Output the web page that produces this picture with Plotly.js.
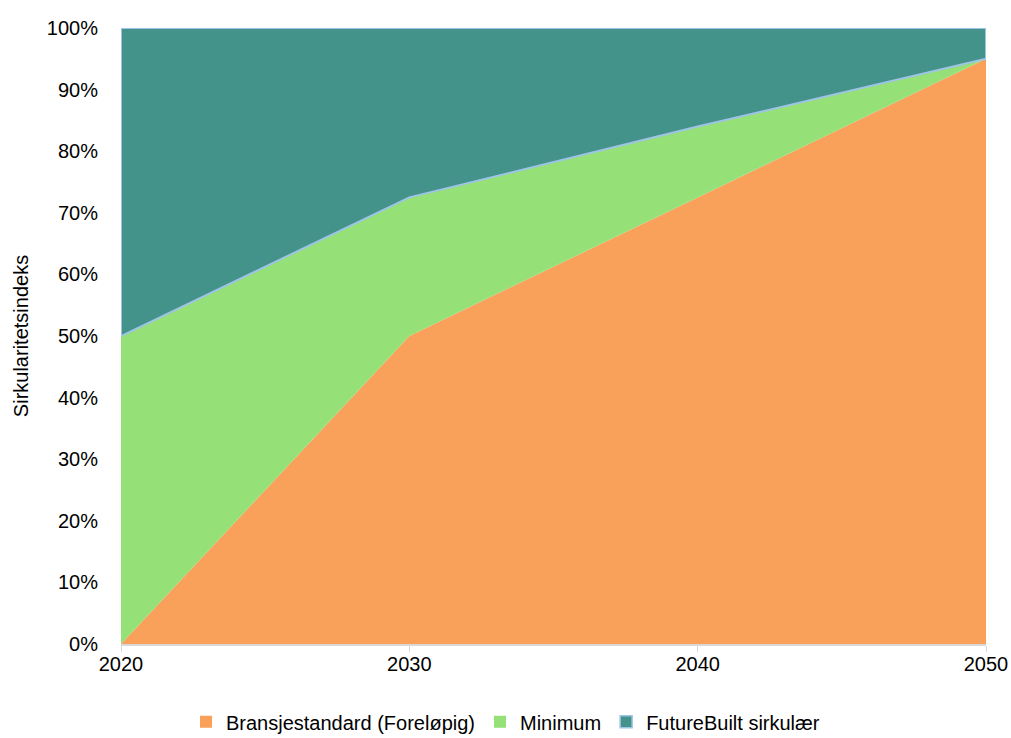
<!DOCTYPE html>
<html>
<head>
<meta charset="utf-8">
<script src="https://cdn.plot.ly/plotly-3.0.1.min.js"></script>
<style>html,body{margin:0;padding:0;background:#fff;}#chart{width:1011px;height:738px;}</style>
</head>
<body>
<div id="chart"></div>
<script>
var years = [2020, 2030, 2040, 2050];
var bransjestandard = [0, 50, 72.5, 95];
var minimum = [50, 22.5, 11.5, 0];
var futurebuilt = [50, 27.5, 16, 5];
var seriesNames = ['Bransjestandard (Foreløpig)', 'Minimum', 'FutureBuilt sirkulær'];
var yTickVals = [0, 10, 20, 30, 40, 50, 60, 70, 80, 90, 100];
var yTickText = ['0%', '10%', '20%', '30%', '40%', '50%', '60%', '70%', '80%', '90%', '100%'];
var xTickVals = [2020, 2030, 2040, 2050];

var fills = ['#F9A05B', '#95E178', '#44938B'];
var edge = '#9DC3E6';

var lowerEdge = years.map(function (y, i) { return bransjestandard[i] + minimum[i]; });
var topEdge = years.map(function (y, i) { return lowerEdge[i] + futurebuilt[i]; });
var outlineX = years.concat(years.slice().reverse()).concat([years[0]]);
var outlineY = lowerEdge.concat(topEdge.slice().reverse()).concat([lowerEdge[0]]);

var data = [bransjestandard, minimum, futurebuilt];
var traces = [];
data.forEach(function (vals, k) {
  traces.push({x: years, y: vals, name: seriesNames[k], type: 'scatter', mode: 'lines',
    stackgroup: 'a', fillcolor: fills[k], line: {width: 0, color: fills[k]}, showlegend: false});
});
traces.push({x: outlineX, y: outlineY, type: 'scatter', mode: 'lines', showlegend: false,
  hoverinfo: 'skip', cliponaxis: false, line: {width: 2, color: edge}});
// legend entries (square swatches)
data.forEach(function (vals, k) {
  traces.push({x: [null], y: [null], name: seriesNames[k], type: 'bar', showlegend: true,
    marker: {color: fills[k], line: {width: k === 2 ? 1.5 : 0, color: edge}}});
});

var layout = {
  width: 1011, height: 738,
  margin: {l: 121, r: 25, t: 28, b: 94},
  paper_bgcolor: '#fff', plot_bgcolor: '#fff',
  font: {family: 'Liberation Sans, Arial, sans-serif', size: 20, color: '#000'},
  showlegend: true,
  legend: {orientation: 'h', xref: 'container', yref: 'container', x: 0.5, xanchor: 'center',
           y: 0.022, yanchor: 'middle', font: {size: 20}, traceorder: 'normal',
           itemwidth: 30},
  xaxis: {range: [2020, 2050], tickvals: xTickVals, ticktext: xTickVals.map(String),
          showgrid: false, zeroline: false, showline: true, linecolor: '#D9D9D9', linewidth: 1.5,
          ticks: 'outside', ticklen: 6, tickcolor: '#D9D9D9', tickfont: {size: 20},
          ticklabelstandoff: -5, fixedrange: true},
  yaxis: {range: [0, 100], tickvals: yTickVals, ticktext: yTickText, showgrid: false,
          zeroline: false, showline: false, ticks: '', ticklen: 0, tickfont: {size: 20},
          ticklabelstandoff: 22, automargin: false,
          title: {text: 'Sirkularitetsindeks', font: {size: 20}, standoff: 12}}
};

Plotly.newPlot('chart', traces, layout, {displayModeBar: false, staticPlot: true});
</script>
</body>
</html>
